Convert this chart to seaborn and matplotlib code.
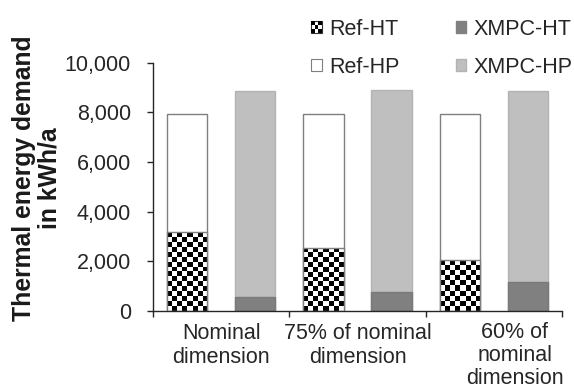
import numpy as np
import pandas as pd
import matplotlib
matplotlib.use("Agg")
import matplotlib.pyplot as plt
import matplotlib.transforms as mtransforms
from matplotlib.patches import Rectangle, Patch
from matplotlib.legend_handler import HandlerBase
from matplotlib.ticker import FuncFormatter, FixedLocator
import seaborn as sns

# Thermal energy demand in kWh/a per sizing variant
categories = ["Nominal\ndimension", "75% of nominal\ndimension", "60% of\nnominal\ndimension"]
ref_ht = [3180, 2550, 2050]
ref_hp = [4770, 5400, 5900]
xmpc_ht = [550, 760, 1150]
xmpc_hp = [8330, 8160, 7730]
strategies = ["Ref", "XMPC"]
y_ticks = [0, 2000, 4000, 6000, 8000, 10000]

sns.set_theme(style="white")
plt.rcParams["font.family"] = ["Liberation Sans", "DejaVu Sans"]

FS = 15.5
DARK = "#262626"

df = pd.DataFrame({
    "category": categories * 2,
    "strategy": [strategies[0]] * 3 + [strategies[1]] * 3,
    "ht": ref_ht + xmpc_ht,
    "hp": ref_hp + xmpc_hp,
})
df["total"] = df["ht"] + df["hp"]

fig = plt.figure(figsize=(5.74, 3.91), dpi=100)
W, H = 574, 391
ax = fig.add_axes([153 / W, 1 - 311 / H, (562 - 153) / W, (311 - 62.7) / H])

# full stack (heat pump share sits on top of the heating-rod share)
sns.barplot(data=df, x="category", y="total", hue="strategy", order=categories,
            hue_order=strategies, palette=["white", "#bfbfbf"], width=1.0, gap=0.41,
            dodge=True, legend=False, errorbar=None, saturation=1, ax=ax)
n_total = len(ax.patches)
sns.barplot(data=df, x="category", y="ht", hue="strategy", order=categories,
            hue_order=strategies, palette=["white", "#808080"], width=1.0, gap=0.41,
            dodge=True, legend=False, errorbar=None, saturation=1, ax=ax)

total_patches = ax.patches[:n_total]
ht_patches = ax.patches[n_total:]

for p in total_patches:
    fc = p.get_facecolor()
    if np.allclose(fc[:3], 1.0):
        p.set_edgecolor("#7f7f7f")
    else:
        p.set_edgecolor("#b3b3b3")
    p.set_linewidth(1.0)
    p.set_zorder(1.0)

ax.set_xlim(-0.5, 2.5)
ax.set_ylim(0, 10000)
fig.canvas.draw()

# checkerboard fill for the reference heating-rod share
px_per_x = ax.transData.transform((1, 0))[0] - ax.transData.transform((0, 0))[0]
px_per_y = ax.transData.transform((0, 1))[1] - ax.transData.transform((0, 0))[1]
for p in ht_patches:
    fc = p.get_facecolor()
    if np.allclose(fc[:3], 1.0):
        x0, y0 = p.get_x(), p.get_y()
        w, h = p.get_width(), p.get_height()
        nx = max(1, int(round(w * px_per_x / 5.0)))
        ny = max(1, int(round(h * px_per_y / 5.0)))
        grid = (np.add.outer(np.arange(ny), np.arange(nx)) % 2).astype(float)
        im = ax.imshow(grid, cmap="gray", vmin=0, vmax=1, interpolation="nearest",
                       extent=(x0, x0 + w, y0, y0 + h), origin="upper",
                       aspect="auto", zorder=1.5)
        im.set_clip_path(p)
        p.set_facecolor("none")
        p.set_edgecolor("#7f7f7f")
    else:
        p.set_edgecolor("#7a7a7a")
    p.set_linewidth(1.0)
    p.set_zorder(2.0)

ax.set_xlim(-0.5, 2.5)
ax.set_ylim(0, 10000)

# axes styling
sns.despine(ax=ax)
for s in ("left", "bottom"):
    ax.spines[s].set_color(DARK)
    ax.spines[s].set_linewidth(1.0)

ax.set_yticks(y_ticks)
ax.yaxis.set_major_formatter(FuncFormatter(lambda v, _: f"{int(v):,}"))
ax.tick_params(axis="y", which="major", left=True, length=4.3, width=1.0,
               color=DARK, pad=11.5, labelsize=FS, labelcolor=DARK)

ax.set_xticks(range(len(categories)))
ax.set_xticklabels(categories, linespacing=1.2)
ax.tick_params(axis="x", which="major", bottom=False, length=0, pad=8.5,
               labelsize=FS, labelcolor=DARK)
ax.xaxis.set_minor_locator(FixedLocator([-0.5, 0.5, 1.5, 2.5]))
ax.tick_params(axis="x", which="minor", bottom=True, length=4, width=1.0, color=DARK)
ax.set_xlabel("")

# the last, three-line label sits a little to the right and runs to the bottom edge
lbl = ax.get_xticklabels()[2]
lbl.set_linespacing(1.12)
lbl.set_transform(lbl.get_transform() + mtransforms.ScaledTranslation(21 / 100, 1 / 100, fig.dpi_scale_trans))

ax.set_ylabel("Thermal energy demand\nin kWh/a", fontsize=17.8, fontweight="bold",
              color="#1a1a1a", linespacing=1.08, va="center")
ax.yaxis.set_label_coords(-0.2836, 0.536)


class CheckerHandler(HandlerBase):
    def create_artists(self, legend, orig_handle, xdescent, ydescent, width, height, fontsize, trans):
        arts = [Rectangle((-xdescent, -ydescent), width, height, facecolor="white",
                          edgecolor="#333333", lw=0.8, transform=trans)]
        n = 3
        cw, ch = width / n, height / n
        for i in range(n):
            for j in range(n):
                if (i + j) % 2 == 0:
                    arts.append(Rectangle((-xdescent + i * cw, -ydescent + j * ch), cw, ch,
                                          facecolor="black", lw=0, transform=trans))
        return arts


h_ref_ht = Patch(facecolor="white", edgecolor="#333333", label="Ref-HT")
h_ref_hp = Patch(facecolor="white", edgecolor="#7f7f7f", linewidth=0.8, label="Ref-HP")
h_xmpc_ht = Patch(facecolor="#808080", edgecolor="#808080", label="XMPC-HT")
h_xmpc_hp = Patch(facecolor="#bfbfbf", edgecolor="#b3b3b3", label="XMPC-HP")

fig.legend(handles=[h_ref_ht, h_ref_hp, h_xmpc_ht, h_xmpc_hp],
           labels=["Ref-HT", "Ref-HP", "XMPC-HT", "XMPC-HP"],
           handler_map={h_ref_ht: CheckerHandler()},
           ncol=2, frameon=False, loc="upper left",
           bbox_to_anchor=(311 / W, 1 - 19 / H), borderpad=0, borderaxespad=0,
           handlelength=0.5, handleheight=0.5, handletextpad=0.35,
           columnspacing=2.6, labelspacing=0.78, fontsize=FS, labelcolor=DARK)

fig.savefig("out.png", dpi=100)
